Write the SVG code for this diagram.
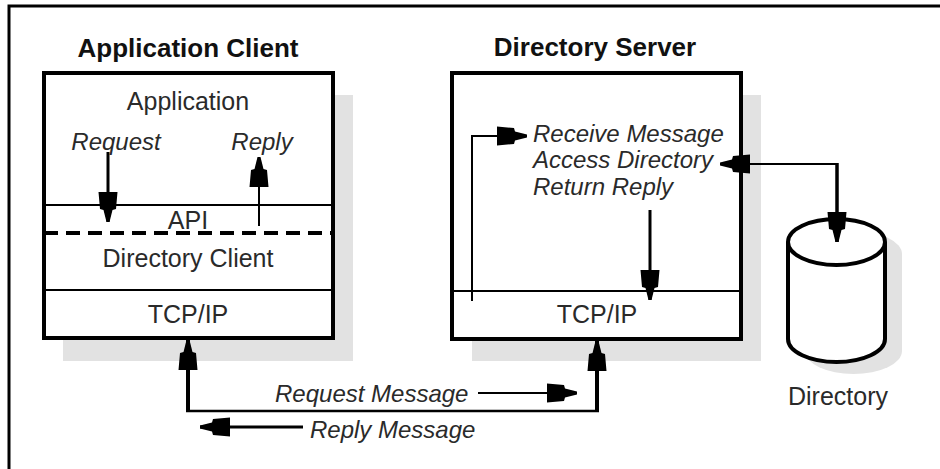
<svg xmlns="http://www.w3.org/2000/svg" width="940" height="469" viewBox="0 0 940 469">
  <style>
    .title { font-family: "Liberation Sans", Arial, sans-serif; font-weight: bold; font-size: 26px; fill: #111; text-anchor: middle; }
    .lbl { font-family: "Liberation Sans", Arial, sans-serif; font-size: 25px; fill: #2a2a2a; text-anchor: middle; }
    .it { font-family: "Liberation Sans", Arial, sans-serif; font-style: italic; font-size: 24px; fill: #2a2a2a; }
    .shadow { fill: #e2e2e2; stroke: none; }
    .box { fill: #ffffff; stroke: #000; stroke-width: 4; }
    .sep { stroke: #000; stroke-width: 2; fill: none; }
    .wire { stroke: #000; fill: none; }
  </style>
  <defs>
    <marker id="head" markerUnits="userSpaceOnUse" viewBox="-31 -11 32 22" markerWidth="32" markerHeight="22" refX="0" refY="0" orient="auto-start-reverse">
      <path d="M0,-1.5 L-12,-4.5 L-13,-8 L-30,-9.5 L-30,9.5 L-13,8 L-12,4.5 L0,1.5 Z" fill="#000"/>
    </marker>
  </defs>

  <!-- frame -->
  <rect x="9" y="6" width="960" height="480" fill="#fff" stroke="#000" stroke-width="3"/>

  <!-- client stack -->
  <g id="application-client">
    <text class="title" x="188" y="57">Application Client</text>
    <rect class="shadow" x="63" y="95" width="290" height="266"/>
    <rect class="box" x="44" y="73" width="289" height="265"/>
    <line class="sep" x1="44" y1="205" x2="333" y2="205"/>
    <line x1="44" y1="233" x2="333" y2="233" stroke="#000" stroke-width="4" stroke-dasharray="14 8"/>
    <line class="sep" x1="44" y1="290" x2="333" y2="290"/>
    <text class="lbl" x="188" y="110">Application</text>
    <text class="it" x="116" y="150" text-anchor="middle">Request</text>
    <text class="it" x="262" y="150" text-anchor="middle">Reply</text>
    <text class="lbl" x="188" y="229">API</text>
    <text class="lbl" x="188" y="267" font-size="26">Directory Client</text>
    <text class="lbl" x="188" y="323" font-size="26">TCP/IP</text>
  </g>

  <!-- server stack -->
  <g id="directory-server">
    <text class="title" x="595" y="56">Directory Server</text>
    <rect class="shadow" x="472" y="95" width="289" height="266"/>
    <rect class="box" x="452" y="73" width="289" height="266"/>
    <line class="sep" x1="452" y1="291" x2="741" y2="291"/>
    <text class="it" x="533" y="142">Receive Message</text>
    <text class="it" x="533" y="168">Access Directory</text>
    <text class="it" x="533" y="195">Return Reply</text>
    <text class="lbl" x="597" y="323" font-size="26">TCP/IP</text>
  </g>

  <!-- data store -->
  <g id="directory">
    <path class="shadow" d="M805,254 A48.5,23 0 0 1 902,254 L902,351 A48.5,23 0 0 1 805,351 Z"/>
    <path d="M788,242 L788,339 A48.5,23 0 0 0 885,339 L885,242" fill="#fff" stroke="#000" stroke-width="4"/>
    <ellipse cx="836.5" cy="242" rx="48.5" ry="23" fill="#fff" stroke="#000" stroke-width="4"/>
    <text class="lbl" x="838" y="405" font-size="24">Directory</text>
  </g>

  <!-- connectors -->
  <g id="connectors">
    <line class="wire" x1="108" y1="152" x2="108" y2="222" stroke-width="3" marker-end="url(#head)"/>
    <line class="wire" x1="259" y1="226" x2="259" y2="157" stroke-width="2" marker-end="url(#head)"/>

    <line class="wire" x1="188" y1="411" x2="188" y2="340" stroke-width="4" marker-end="url(#head)"/>
    <line class="wire" x1="186" y1="411" x2="599" y2="411" stroke-width="2.5"/>
    <line class="wire" x1="597" y1="412" x2="597" y2="341" stroke-width="4" marker-end="url(#head)"/>

    <line class="wire" x1="478" y1="393" x2="577" y2="393" stroke-width="2" marker-end="url(#head)"/>
    <line class="wire" x1="303" y1="427" x2="200" y2="427" stroke-width="3" marker-end="url(#head)"/>

    <path class="wire" d="M472,301 L472,136 L527,136" stroke-width="2" marker-end="url(#head)"/>
    <line class="wire" x1="650" y1="210" x2="650" y2="300" stroke-width="3" marker-end="url(#head)"/>

    <path class="wire" d="M720,164 L837,164 L837,242" stroke-width="2" marker-start="url(#head)"/>
    <line class="wire" x1="837" y1="163" x2="837" y2="242" stroke-width="3.5" marker-end="url(#head)"/>

    <text class="it" x="275" y="402">Request Message</text>
    <text class="it" x="310" y="438">Reply Message</text>
  </g>
</svg>
